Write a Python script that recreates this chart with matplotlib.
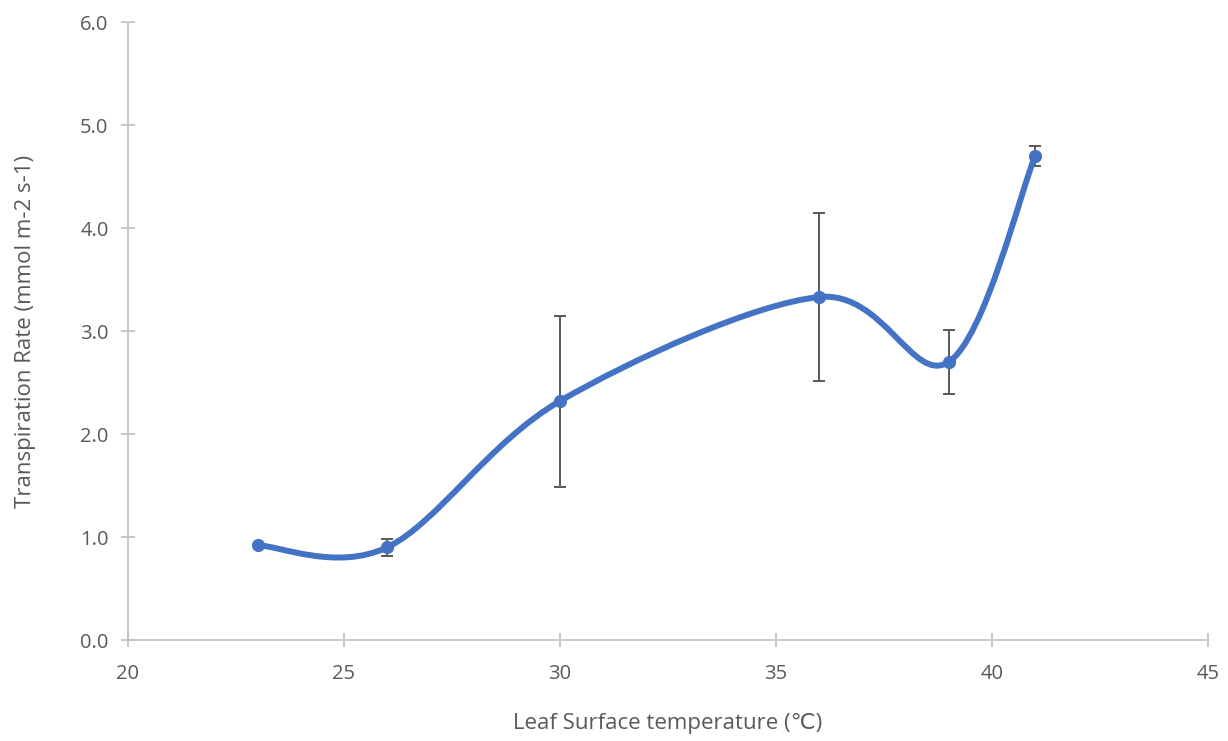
import matplotlib.pyplot as plt
from matplotlib.path import Path
from matplotlib.patches import PathPatch
import numpy as np

temps = [23, 26, 30, 36, 39, 41]
rates = [0.92, 0.90, 2.32, 3.33, 2.70, 4.70]
errs = [0.0, 0.08, 0.83, 0.82, 0.31, 0.10]
xticks = [20, 25, 30, 35, 40, 45]
yticks = [0, 1, 2, 3, 4, 5, 6]

plt.rcParams['font.family'] = ['Open Sans', 'DejaVu Sans']

fig = plt.figure(figsize=(12.28, 7.41), dpi=100)
ax = fig.add_axes([0.1042, 0.1363, 0.8795, 0.834])

# excel style smoothed line: bezier through points
pts = np.column_stack([temps, rates])
n = len(pts)
verts = [tuple(pts[0])]
codes = [Path.MOVETO]
for i in range(n - 1):
    p0 = pts[max(i - 1, 0)]
    p1 = pts[i]
    p2 = pts[i + 1]
    p3 = pts[min(i + 2, n - 1)]
    c1 = p1 + (p2 - p0) / 6.0
    c2 = p2 - (p3 - p1) / 6.0
    verts += [tuple(c1), tuple(c2), tuple(p2)]
    codes += [Path.CURVE4] * 3
ax.add_patch(PathPatch(Path(verts, codes), facecolor='none', edgecolor='#4472C4',
                       lw=4.3, capstyle='round', joinstyle='round', zorder=3))

has_err = [e > 0 for e in errs]
ax.errorbar(np.array(temps)[has_err], np.array(rates)[has_err], yerr=np.array(errs)[has_err],
            fmt='none', ecolor='#595959', elinewidth=1.4, capsize=4.5, capthick=1.4, zorder=2)
ax.plot(temps, rates, 'o', color='#4472C4', ms=8.5, zorder=4)

ax.set_xlim(20, 45)
ax.set_ylim(0, 6)
ax.set_xticks(xticks)
ax.set_yticks(yticks)
ax.set_yticklabels([f"{v:.1f}" for v in yticks])
for s in ['top', 'right']:
    ax.spines[s].set_visible(False)
for s in ['left', 'bottom']:
    ax.spines[s].set_color('#BFBFBF')
    ax.spines[s].set_linewidth(1.2)
ax.tick_params(direction='inout', length=10, width=1.2, color='#BFBFBF',
               labelcolor='#595959', labelsize=14.5)
ax.tick_params(axis='x', pad=12)
ax.tick_params(axis='y', pad=9)

ax.set_xlabel('Leaf Surface temperature (\u2103)', fontsize=16, color='#595959', labelpad=21)
ax.set_ylabel('Transpiration Rate (mmol m-2 s-1)', fontsize=16, color='#595959', labelpad=32)

fig.savefig('out.png', dpi=100)
